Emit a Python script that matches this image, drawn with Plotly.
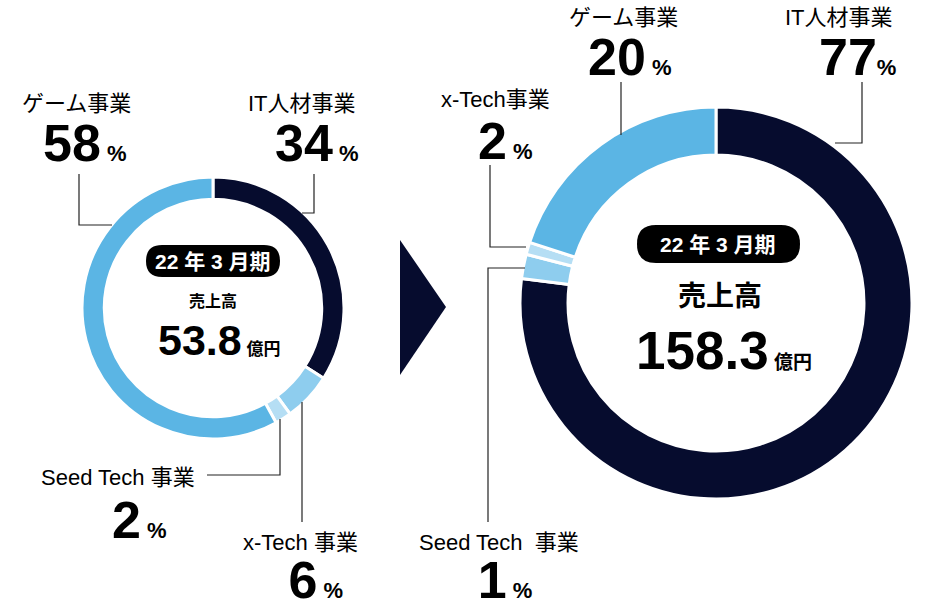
import plotly.graph_objects as go

W, H = 941, 610

segments = ["IT人材事業", "x-Tech事業", "Seed Tech事業", "ゲーム事業"]
share_2021 = [34, 6, 2, 58]
share_2022 = [77, 2, 1, 20]
colors = ["#060c2e", "#8ecdee", "#b5def4", "#5bb5e4"]
period = "22 年 3 月期"
sales_left = "53.8"
sales_right = "158.3"

FONT = "Liberation Sans, Arial, Noto Sans CJK JP, sans-serif"


def px(x):
    return x / W


def py(y):
    return 1 - y / H


fig = go.Figure()

fig.add_trace(go.Pie(
    labels=segments, values=share_2021, sort=False, direction="clockwise",
    rotation=0, hole=0.83, textinfo="none", hoverinfo="skip",
    marker=dict(colors=colors, line=dict(color="white", width=3)),
    domain=dict(x=[px(82), px(344)], y=[py(439), py(177)]),
    showlegend=False,
))
fig.add_trace(go.Pie(
    labels=segments, values=share_2022, sort=False, direction="clockwise",
    rotation=0, hole=0.755, textinfo="none", hoverinfo="skip",
    marker=dict(colors=colors, line=dict(color="white", width=3)),
    domain=dict(x=[px(520), px(912)], y=[py(499), py(107)]),
    showlegend=False,
))

shapes = []


def line(points):
    path = "M " + " L ".join(f"{px(x)},{py(y)}" for x, y in points)
    shapes.append(dict(type="path", xref="paper", yref="paper", path=path,
                       line=dict(color="#222", width=1.2)))


def pill(x0, x1, y0, y1):
    r = (y1 - y0) / 2
    path = (f"M {px(x0 + r)},{py(y0)} L {px(x1 - r)},{py(y0)} "
            f"Q {px(x1)},{py(y0)} {px(x1)},{py(y0 + r)} "
            f"Q {px(x1)},{py(y1)} {px(x1 - r)},{py(y1)} "
            f"L {px(x0 + r)},{py(y1)} "
            f"Q {px(x0)},{py(y1)} {px(x0)},{py(y0 + r)} "
            f"Q {px(x0)},{py(y0)} {px(x0 + r)},{py(y0)} Z")
    shapes.append(dict(type="path", xref="paper", yref="paper", path=path,
                       fillcolor="black", line=dict(width=0)))


# leader lines - left
line([(79, 174), (79, 225), (112, 225)])
line([(314, 174), (314, 213), (302, 213)])
line([(207, 475), (280, 475), (280, 419)])
line([(302, 402), (302, 522)])
# leader lines - right
line([(621, 82), (621, 135)])
line([(862, 82), (862, 143), (835, 143)])
line([(490, 165), (490, 247), (526, 247)])
line([(525, 268), (488, 268), (488, 522)])

# arrow triangle
shapes.append(dict(type="path", xref="paper", yref="paper",
                   path=f"M {px(400)},{py(240)} L {px(446)},{py(307)} L {px(400)},{py(375)} Z",
                   fillcolor="#060c2e", line=dict(width=0)))

pill(146, 280, 245, 277)
pill(637, 800, 225, 263)

fig.update_layout(shapes=shapes)

ann = []


def text(x, y, s, size, bold=False, color="black", xanchor="center"):
    if bold:
        s = f"<b>{s}</b>"
    ann.append(dict(x=px(x), y=py(y), xref="paper", yref="paper", text=s,
                    showarrow=False, xanchor=xanchor, yanchor="middle",
                    borderpad=0, borderwidth=0,
                    font=dict(family=FONT, size=size, color=color)))


def pct(x, y, num, size=52, psize=22, sep=" "):
    s = f"<b>{num}</b><span style='font-size:{psize}px'><b>{sep}%</b></span>"
    ann.append(dict(x=px(x), y=py(y), xref="paper", yref="paper", text=s,
                    showarrow=False, xanchor="center", yanchor="middle",
                    borderpad=0, borderwidth=0,
                    font=dict(family=FONT, size=size, color="black")))


def label_pct_bottom(x, label, num, pad):
    # label line + big percentage line in one text block, anchored at the bottom edge
    s = (f"<span style='font-size:22px'>{label}{'&nbsp;' * pad}</span><br>"
         f"<span style='font-size:52px'><b>{num}</b></span>"
         f"<span style='font-size:22px'><b> %</b></span>")
    ann.append(dict(x=px(x), y=py(609), xref="paper", yref="paper", text=s,
                    showarrow=False, xanchor="center", yanchor="bottom",
                    align="center", borderpad=0, borderwidth=0,
                    font=dict(family=FONT, size=37, color="black")))


# left labels
text(76, 103, segments[3], 22)
pct(85, 143, share_2021[3])
text(302, 103, segments[0], 22)
pct(317, 143, share_2021[0])
text(118, 477, "Seed Tech 事業", 22)
pct(139, 520, share_2021[2])
label_pct_bottom(315, "x-Tech 事業", share_2021[1], 5)

# right labels
text(623, 18, segments[3], 22)
pct(630, 57, share_2022[3])
text(839, 18, segments[0], 22)
pct(857, 57, share_2022[0], sep="")
text(496, 100, "x-Tech事業", 22)
pct(506, 141, share_2022[1])
label_pct_bottom(505, "Seed Tech  事業", share_2022[2], 2)

# centre text - left
text(213, 261, period, 21, bold=True, color="white")
text(213, 301, "売上高", 16, bold=True)
ann.append(dict(x=px(219), y=py(340), xref="paper", yref="paper",
                text=f"<b>{sales_left}</b><span style='font-size:17px'><b> 億円</b></span>",
                showarrow=False, xanchor="center", yanchor="middle",
                font=dict(family=FONT, size=43, color="black")))

# centre text - right
text(718, 244, period, 21, bold=True, color="white")
text(720, 296, "売上高", 28, bold=True)
ann.append(dict(x=px(724), y=py(350), xref="paper", yref="paper",
                text=f"<b>{sales_right}</b><span style='font-size:19px'><b> 億円</b></span>",
                showarrow=False, xanchor="center", yanchor="middle",
                font=dict(family=FONT, size=53, color="black")))

fig.update_layout(annotations=ann, width=W, height=H,
                  margin=dict(l=0, r=0, t=0, b=0),
                  paper_bgcolor="white", plot_bgcolor="white")

fig.write_html("out.html", config={"displayModeBar": False},
               post_script="document.body.style.margin='0';document.body.style.padding='0';")
